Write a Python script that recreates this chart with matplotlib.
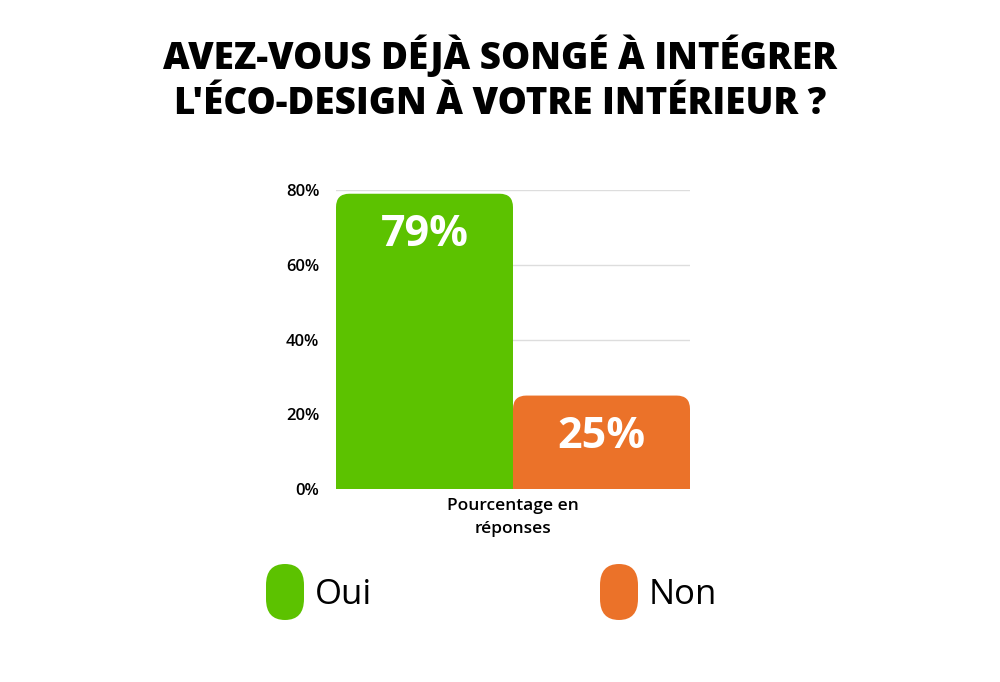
import matplotlib
matplotlib.use("Agg")
import matplotlib.pyplot as plt
from matplotlib.patches import FancyBboxPatch, Rectangle

categories = ["Oui", "Non"]
values = [79, 25]
colors = ["#5CC200", "#EB7229"]
yticks = [0, 20, 40, 60, 80]
ytick_labels = ["0%", "20%", "40%", "60%", "80%"]
xlabel = "Pourcentage en\nréponses"
title = "AVEZ-VOUS DÉJÀ SONGÉ À INTÉGRER\nL'ÉCO-DESIGN À VOTRE INTÉRIEUR ?"

plt.rcParams['font.family'] = ['Open Sans', 'DejaVu Sans']

fig = plt.figure(figsize=(10, 6.82), dpi=100)
ax = fig.add_axes([0.336, 1 - 489/682, 0.354, (489 - 190)/682])

bars = ax.bar(range(len(values)), values, width=1.0, color=colors)
ax.set_xlim(-0.5, len(values) - 0.5)
ax.set_ylim(0, 80)

# rounded tops
rx = 0.075
ry = 3.6
for b, c in zip(bars, colors):
    x, w, h = b.get_x(), b.get_width(), b.get_height()
    b.set_visible(False)
    p = FancyBboxPatch((x, 0), w, h,
                       boxstyle=f"round,pad=0,rounding_size={rx}",
                       mutation_aspect=ry / rx, fc=c, ec='none', zorder=3)
    ax.add_patch(p)
    ax.add_patch(Rectangle((x, 0), w, h / 2, fc=c, ec='none', zorder=3))

for i, v in enumerate(values):
    ax.text(i, v - 11, f"{v}%", ha='center', va='center', color='white',
            fontsize=31, fontweight='bold', zorder=4)

ax.set_yticks(yticks)
ax.set_yticklabels(ytick_labels, fontsize=12, fontweight='semibold')
ax.tick_params(axis='y', length=0, pad=12)
ax.set_xticks([])
ax.grid(axis='y', color='#DDDDDD', linewidth=1, zorder=0)
ax.set_axisbelow(True)
for s in ax.spines.values():
    s.set_visible(False)

fig.text(0.513, 1 - 498/682, xlabel, ha='center', va='top', fontsize=12.5,
         fontweight='semibold', linespacing=1.55)

fig.text(0.5, 1 - 79/682, title, ha='center', va='center', fontsize=26.5,
         fontweight='heavy', linespacing=1.3)

# legend
leg_x = [266, 600]
for lx, c, lab in zip(leg_x, colors, categories):
    rr = 0.019
    fig.patches.append(FancyBboxPatch((lx / 1000, 1 - 620/682), 38/1000, 56/682,
                                      boxstyle=f"round,pad=0,rounding_size={rr}",
                                      mutation_aspect=(21/682) / rr,
                                      transform=fig.transFigure, fc=c, ec='none'))
    fig.text((lx + 49) / 1000, 1 - 595/682, lab, ha='left', va='center',
             fontsize=25, color='black')

fig.savefig("out.png", dpi=100, facecolor='white')
